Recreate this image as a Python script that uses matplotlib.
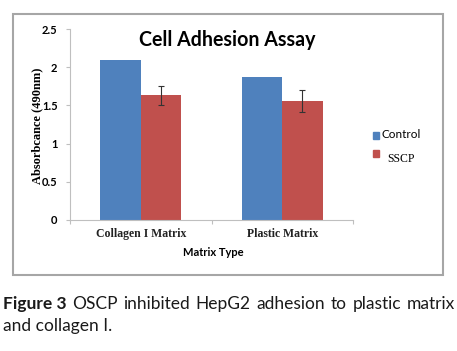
import matplotlib.pyplot as plt
import matplotlib.patches as mpatches
import numpy as np

# data
categories = ["Collagen I Matrix", "Plastic Matrix"]
control = [2.10, 1.87]
sscp = [1.63, 1.56]
sscp_err = [0.12, 0.14]
yticks = [0, 0.5, 1, 1.5, 2, 2.5]
ytick_labels = ["0", "0.5", "1", "1.5", "2", "2.5"]

blue = "#4F81BD"
red = "#C0504D"
axis_grey = "#BFBFBF"

fig = plt.figure(figsize=(4.57, 3.51), dpi=100)

# grey frame around the chart area
frame = mpatches.Rectangle((13 / 457, 1 - 275 / 351), 430 / 457, 261 / 351,
                           transform=fig.transFigure, fill=False,
                           edgecolor="#A6A6A6", linewidth=1.5)
fig.patches.append(frame)

ax = fig.add_axes([70 / 457, 1 - 220 / 351, 283 / 457, 191 / 351])

x = np.arange(len(categories))
w = 0.286
ax.bar(x - w / 2, control, width=w, color=blue, label="Control")
ax.bar(x + w / 2, sscp, width=w, color=red, label="SSCP",
       yerr=sscp_err, capsize=2.5, error_kw=dict(elinewidth=0.8, capthick=0.8, ecolor="#333333"))

ax.set_xlim(-0.5, 1.5)
ax.set_ylim(0, 2.5)

ax.spines["top"].set_visible(False)
ax.spines["right"].set_visible(False)
ax.spines["left"].set_color(axis_grey)
ax.spines["bottom"].set_color(axis_grey)

ax.set_yticks(yticks)
ax.set_yticklabels(ytick_labels, fontfamily="Lato", fontweight="bold", fontsize=8)
ax.tick_params(axis="y", length=3, color=axis_grey, pad=6)

# category ticks at group boundaries, labels at centers
ax.set_xticks([-0.5, 0.5, 1.5])
ax.set_xticklabels([])
ax.tick_params(axis="x", length=3, color=axis_grey)
for xi, name in zip(x, categories):
    ax.text(xi, -0.11, name, ha="center", va="top", fontfamily="Liberation Serif",
            fontweight="bold", fontsize=8.5, color="#222222")

fig.text(213 / 457, 1 - 253 / 351, "Matrix Type", ha="center", va="center",
         fontfamily="Lato", fontweight="bold", fontsize=8)
fig.text(37 / 457, 1 - 126 / 351, "Absorbcance (490nm)", ha="center", va="center",
         rotation=90, fontfamily="Liberation Serif", fontweight="bold", fontsize=9)

fig.text(227 / 457, 1 - 40 / 351, "Cell Adhesion Assay", ha="center", va="center",
         fontfamily="Lato", fontweight="bold", fontsize=14.1)

# legend drawn by hand to mix the two fonts
fig.patches.append(mpatches.Rectangle((373 / 457, 1 - 139 / 351), 6 / 457, 7 / 351,
                                      transform=fig.transFigure, color=blue))
fig.text(381 / 457, 1 - 135 / 351, "Control", ha="left", va="center",
         fontfamily="Lato", fontsize=8.5)
fig.patches.append(mpatches.Rectangle((373 / 457, 1 - 157 / 351), 6 / 457, 7 / 351,
                                      transform=fig.transFigure, color=red))
fig.text(387 / 457, 1 - 159 / 351, "SSCP", ha="left", va="center",
         fontfamily="Liberation Serif", fontsize=8.5)

# caption, first line justified between x=3 and x=455 px
cap_color = "#1a1a1a"
line1 = [("Figure 3", "bold"), ("OSCP", "normal"), ("inhibited", "normal"),
         ("HepG2", "normal"), ("adhesion", "normal"), ("to", "normal"),
         ("plastic", "normal"), ("matrix", "normal")]
renderer = fig.canvas.get_renderer()
texts = []
for word, weight in line1:
    t = fig.text(0, 1 - 304 / 351, word, ha="left", va="center",
                 fontfamily="Lato", fontweight=weight, fontsize=12.5, color=cap_color)
    texts.append(t)
widths = [t.get_window_extent(renderer).width for t in texts]
gap = (452 - sum(widths)) / (len(texts) - 1)
pos = 3
for t, wd in zip(texts, widths):
    t.set_x(pos / 457)
    pos += wd + gap
fig.text(3 / 457, 1 - 326 / 351, "and collagen I.", ha="left", va="center",
         fontfamily="Lato", fontsize=12.5, color=cap_color)

fig.savefig("out.png", dpi=100)
